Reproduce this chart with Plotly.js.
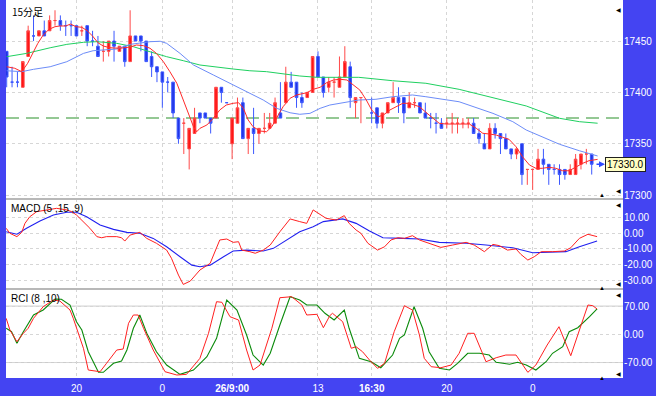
<!DOCTYPE html>
<html><head><meta charset="utf-8">
<script src="https://cdn.plot.ly/plotly-3.0.1.min.js"></script>
<style>html,body{margin:0;padding:0;background:#4646f0;} #chart{width:656px;height:396px;}</style>
</head><body><div id="chart"></div>
<script>
// ---- 15-minute bars (index = bar slot, slot 67 is empty) ----
const barOpen = [17440,17410,17410,17405,17435,17455,17455,17460,17460,17470,
17470,17465,17465,17465,17460,17465,17450,17445,17440,17440,
17450,17440,17445,17430,17455,17455,17450,17435,17425,17420,
17410,17410,17375,17370,17345,17360,17380,17380,17375,17375,
17405,17390,17350,17370,17390,17355,17365,17360,17365,17365,
17370,17380,17390,17410,17410,17395,17395,17400,17435,17415,
17405,17410,17405,17415,17425,17390,17395,null,17380,17385,
17370,17380,17390,17395,17395,17385,17390,17390,17380,17375,
17370,17370,17370,17370,17370,17370,17370,17370,17360,17350,
17345,17365,17360,17355,17345,17340,17350,17325,17325,17325,
17335,17330,17325,17325,17325,17320,17320,17330,17340,17340];
const barHigh = [17440,17425,17420,17430,17465,17475,17460,17470,17475,17480,
17475,17470,17470,17465,17465,17465,17460,17455,17450,17450,
17460,17445,17445,17480,17455,17455,17450,17440,17425,17420,
17415,17410,17375,17375,17365,17385,17380,17380,17375,17405,
17405,17390,17375,17395,17395,17365,17385,17365,17380,17380,
17395,17410,17425,17420,17410,17400,17400,17435,17440,17415,
17415,17415,17435,17445,17430,17395,17395,null,17395,17385,
17380,17390,17410,17405,17395,17400,17395,17390,17390,17380,
17380,17375,17375,17380,17375,17375,17375,17375,17365,17360,
17370,17370,17360,17360,17345,17345,17350,17325,17325,17345,
17345,17330,17330,17330,17325,17330,17340,17340,17345,17340];
const barLow = [17405,17405,17405,17405,17435,17450,17455,17455,17460,17465,
17460,17455,17455,17455,17455,17445,17445,17435,17430,17435,
17430,17440,17425,17430,17450,17440,17430,17415,17410,17385,
17400,17375,17350,17340,17325,17360,17370,17375,17360,17375,
17390,17390,17335,17370,17355,17340,17340,17350,17360,17365,
17370,17375,17390,17405,17385,17385,17395,17400,17415,17395,
17400,17395,17405,17415,17385,17375,17370,null,17370,17365,
17365,17380,17390,17380,17370,17385,17385,17380,17375,17365,
17360,17365,17365,17360,17360,17365,17365,17360,17350,17345,
17345,17355,17340,17345,17335,17335,17310,17310,17305,17325,
17320,17310,17320,17310,17315,17320,17320,17325,17330,17320];
const barClose = [17415,17410,17410,17430,17460,17455,17460,17455,17470,17470,
17465,17465,17465,17455,17460,17450,17450,17435,17440,17450,
17445,17445,17430,17455,17450,17450,17430,17425,17420,17410,
17410,17380,17355,17370,17365,17375,17375,17375,17370,17405,
17400,17390,17375,17385,17355,17365,17360,17365,17365,17370,
17390,17375,17410,17405,17395,17390,17400,17435,17415,17400,
17410,17410,17415,17430,17395,17395,17395,null,17380,17370,
17380,17390,17395,17390,17380,17390,17390,17380,17375,17375,
17370,17365,17370,17370,17370,17370,17370,17360,17355,17345,
17365,17360,17355,17345,17340,17345,17320,17325,17325,17335,
17330,17325,17325,17320,17320,17325,17335,17340,17340,17330];

// ---- moving averages (x in bar slots) ----
const maFastX = [0,1.5,2.8,3.9,5.0,5.8,6.8,7.9,9.0,9.9,11.0,11.9,12.9,14.0,15.0,16.0,17.0,18.0,19.2,21.1,23.0,24.2,25.5,26.7,27.9,29.2,30.4,31.7,32.9,33.8,34.8,35.4,36.0,37.3,38.5,39.7,40.9,42.2,43.2,44.1,45.0,45.9,47.2,48.4,49.4,50.6,51.5,52.8,54.0,55.9,57.1,58.4,59.6,60.9,62.1,63.4,64.6,65.8,67.0,68.0,69.2,70.2,71.4,72.7,73.8,75.0,76.9,78.7,80.6,81.9,84.3,86.2,87.5,88.7,89.9,91.2,92.4,93.6,94.9,96.1,97.4,98.6,99.8,101.1,102.3,103.6,104.8,106.1,107.3,108.5,110.1];
const maFastY = [17425,17423.5,17420.2,17428.3,17439.6,17447.8,17455.9,17461.5,17464,17464.7,17464.7,17466.6,17464,17463.4,17460.1,17454.9,17448.4,17445.2,17443.5,17443,17444.2,17446.2,17445.5,17443,17438,17429.9,17420.2,17408.9,17392.6,17379.6,17366.6,17361.7,17365,17368.3,17374.8,17382.9,17387.7,17389.4,17390,17384.5,17373.1,17366.6,17362.4,17361.7,17366.6,17378,17386.1,17394.3,17397.5,17399.7,17403,17405,17409.5,17412.1,17412.8,17412.1,17407.2,17402.3,17392.6,17382.9,17376.3,17378,17382.9,17386.8,17389.4,17389.4,17386.1,17378,17369.9,17369.2,17369.2,17369.2,17365,17360.2,17359.5,17358.5,17356.3,17354.3,17347.1,17337.4,17329.3,17326.1,17326.1,17327.1,17326.1,17323.7,17323.7,17327.6,17330.9,17333.5,17334.8];
const maMidX = [0,2.8,5.0,8.1,11.2,14.3,16.1,18.3,20.5,23.0,26.7,28.6,29.8,32.3,34.8,38.5,42.2,44.7,47.8,50.3,52.8,54.6,56.5,58.4,60.2,65.6,68.8,71.9,75.6,78.1,84.3,90.6,94.3,96.8,103.0,106.7,110.1];
const maMidY = [17421.1,17420.2,17422.5,17425,17429.9,17438,17440.6,17441.3,17442.3,17446.8,17449.4,17449.8,17447.8,17438,17426.7,17417,17407.2,17400.7,17392.6,17384.5,17380.2,17378.7,17379.6,17384.5,17387.7,17392.6,17393.3,17395.8,17397.5,17395.8,17390.9,17379.6,17371.5,17363.4,17349.5,17343.2,17338.1];
const maSlowX = [0,3.7,8.1,11.2,14.3,16.8,20.5,23.6,26.7,29.8,32.9,36.0,42.2,45.3,48.4,51.5,54.6,57.8,60.2,65.6,71.9,78.1,84.3,90.6,96.8,103.0,106.7,110.1];
const maSlowY = [17434.8,17438,17443.5,17446.8,17448.8,17449.4,17447.8,17444.5,17439.6,17434.8,17430.9,17426.7,17422.8,17421.1,17420.2,17418,17416,17414.7,17414.7,17414.7,17411.4,17408.9,17403,17395.2,17386.8,17374.8,17371.5,17370];
const refLevel = 17375;

// ---- MACD (5,15,9) ----
const macdX = [-0.1,0.6,1.9,2.8,3.4,4.3,5.6,7.5,9.3,11.2,12.1,13.0,14.3,15.5,16.8,17.7,18.6,20.5,21.4,22.0,23.0,24.2,24.8,26.1,27.9,29.8,30.7,32.0,32.9,34.2,36.0,37.9,38.8,39.7,41.0,42.2,43.2,43.8,45.3,46.3,47.8,49.1,50.9,52.8,54.6,55.9,57.1,58.7,59.5,61.4,62.9,63.8,65.1,66.0,67.3,69.1,70.4,71.6,72.9,74.1,75.6,76.9,78.7,80.9,83.1,85.6,87.1,89.0,90.6,91.8,93.3,94.9,95.8,97.1,98.3,99.6,101.7,103.9,105.1,106.7,108.3,109.2,110.0];
const macdY = [3.0,-0.2,-2.3,0.4,6.1,10.3,13.5,14.6,15.6,14.6,13.5,11.4,7.2,3.0,-2.3,-3.0,-2.3,-2.3,-3.0,-5.1,-1.3,-0.2,0.4,-3.4,-6.5,-10.8,-16.0,-26.6,-32.5,-30.4,-23.4,-19.2,-11.8,-4.4,-3.8,-5.9,-5.5,-10.8,-11.8,-12.8,-10.8,-7.6,0.8,8.9,7.2,6.1,14.6,11.4,9.3,8.2,11.0,6.1,1.9,-0.2,-6.5,-10.8,-8.7,-4.4,-3.0,-3.4,-1.7,-4.4,-6.5,-9.1,-7.6,-5.9,-7.6,-11.8,-7.2,-8.0,-10.8,-10.1,-13.5,-17.1,-15.0,-11.8,-11.8,-11.4,-9.3,-3.4,-0.8,-1.7,-2.3];
const signalX = [-0.1,1.9,3.7,6.2,8.7,11.2,13.0,14.9,17.4,19.9,22.4,24.8,27.3,29.8,32.3,34.5,36.0,37.9,40.4,42.2,44.7,47.8,49.7,52.2,54.6,57.1,59.0,62.6,65.1,67.6,70.1,73.8,76.9,80.6,85.6,89.3,94.3,98.0,100.5,104.2,106.7,110.0];
const signalY = [0.8,-0.8,3.0,7.6,11.4,13.1,13.1,10.3,5.1,2.3,0.4,-0.2,-3.4,-8.7,-15.0,-20.3,-21.3,-20.3,-15.0,-11.4,-10.8,-11.4,-9.7,-4.4,0.8,4.0,7.2,8.9,6.1,1.3,-3.0,-3.4,-3.8,-5.9,-6.5,-7.6,-9.3,-12.5,-12.2,-11.8,-8.7,-5.1];

// ---- RCI (8,10) ----
const rciFastX = [-0.1,0.6,1.9,3.1,4.0,5.0,6.8,8.7,9.9,11.8,12.4,13.3,14.3,15.2,17.4,18.6,20.5,21.7,22.7,23.6,24.5,25.5,27.3,29.5,31.7,33.5,36.0,37.6,39.1,40.1,41.6,43.2,44.7,45.9,47.2,49.4,50.9,53.1,55.0,55.9,57.8,59.0,59.5,60.2,60.7,62.6,64.2,65.1,66.3,67.6,69.1,70.4,72.2,74.1,75.6,76.9,77.8,79.1,80.9,82.8,84.3,85.9,87.1,89.3,91.2,93.0,94.9,97.1,98.6,100.7,102.9,105.1,106.4,108.3,109.2,110.0];
const rciFastY = [39.7,10.7,-18.4,2.5,14.9,39.7,68.5,85.1,82.6,60.3,39.7,2.5,-34.7,-88.6,-92.8,-72.0,-39.0,-36.5,27.3,47.9,47.9,14.9,-39.0,-92.8,-101,-99.3,-59.6,2.5,80.9,79.4,43.7,35.5,-39.0,-88.6,-76.2,14.9,90.8,93.3,72.7,47.9,49.6,16.4,29.8,46.2,52.1,31.3,-34.7,-30.8,-43.2,-63.8,-84.4,-72.0,6.5,71.0,60.3,-1.7,-59.6,-80.4,-82.9,-76.2,-47.1,2.5,2.5,-68.0,-58.1,-51.4,-51.4,-94.3,-76.2,-26.6,18.9,-53.1,-1.7,72.7,71.0,62.8];
const rciSlowX = [-0.1,0.9,1.9,3.1,5.0,6.8,9.0,10.2,11.8,13.0,14.0,15.2,17.1,18.0,19.9,21.4,22.4,23.6,24.8,26.1,27.9,29.8,32.3,34.8,37.3,39.1,41.0,42.9,44.7,45.9,47.8,49.1,50.9,52.8,54.6,55.9,57.8,59.3,61.0,62.9,63.8,65.7,67.9,69.7,71.9,73.2,74.1,75.9,77.5,78.7,80.6,82.5,84.0,85.9,88.1,89.9,91.2,93.7,95.2,96.8,98.6,100.5,101.7,103.6,104.8,106.4,108.6,110.0];
const rciSlowY = [14.9,6.5,-22.3,6.5,47.9,60.3,87.6,86.8,72.7,31.3,10.7,-43.2,-94.3,-94.3,-72.0,-66.3,-39.0,14.9,47.9,2.5,-43.2,-76.2,-99.3,-88.6,-55.6,-9.9,85.1,60.3,-1.7,-51.4,-76.2,-47.1,23.1,93.3,85.1,72.7,72.7,52.1,35.5,60.3,14.9,-59.6,-68.0,-82.9,-51.4,-9.9,-1.7,68.5,14.9,-43.2,-84.4,-88.6,-72.0,-47.1,-47.1,-51.4,-69.5,-74.4,-69.5,-76.2,-88.6,-68.0,-47.1,-30.8,6.5,16.4,43.7,62.8];

// ---- axis ticks ----
const timeTickPos = [13,29,42,58,68,82,98];
const timeTickText = ['20','0','<b>26/9:00</b>','13','<b>16:30</b>','20','0'];
const priceTicks = [17300,17350,17400,17450];
const macdTicks = [10,0,-10,-20,-30];
const rciTicks = [70,0,-70];

// ---------------------------------------------------------------
const W = 656, H = 396, ML = 6, MR = 33, MT = 0, MB = 18;
const PW = W - ML - MR, PH = H - MT - MB;
const py = p => (PH - p) / PH;     // pixel row -> paper y
const px = p => (p - ML) / PW;     // pixel col -> paper x
const b1 = py(199), b2 = py(289);
const xr = [-0.13, 114.83];
const idx = barOpen.map((_, i) => i);
const lastClose = barClose[barClose.length - 1];

const BLUE_BG = '#4444f2';
const GRID = '#d6d6d6';
const tickFont = {family: 'Liberation Sans, Arial, sans-serif', size: 10, color: '#ffffff'};
const fx = v => v.toFixed(2);

const xBase = {range: xr, tickmode: 'array', tickvals: timeTickPos, ticktext: timeTickText,
  showgrid: true, gridcolor: GRID, griddash: 'dot', gridwidth: 1, zeroline: false,
  showline: false, ticks: '', fixedrange: true, automargin: false};

const traces = [
  {type: 'candlestick', x: idx, open: barOpen, high: barHigh, low: barLow, close: barClose,
   xaxis: 'x', yaxis: 'y', whiskerwidth: 0, hoverinfo: 'skip',
   increasing: {line: {color: '#ff4a4a', width: 1}, fillcolor: '#ff1414'},
   decreasing: {line: {color: '#3c58ff', width: 1}, fillcolor: '#2236e6'}},
  {type: 'scatter', mode: 'lines', x: maSlowX, y: maSlowY, xaxis: 'x', yaxis: 'y',
   line: {color: '#1fd060', width: 1}, hoverinfo: 'skip'},
  {type: 'scatter', mode: 'lines', x: maMidX, y: maMidY, xaxis: 'x', yaxis: 'y',
   line: {color: '#6c8cf8', width: 1}, hoverinfo: 'skip'},
  {type: 'scatter', mode: 'lines', x: maFastX, y: maFastY, xaxis: 'x', yaxis: 'y',
   line: {color: '#ff2a2a', width: 1}, hoverinfo: 'skip'},
  {type: 'scatter', mode: 'lines', x: signalX, y: signalY, xaxis: 'x2', yaxis: 'y2',
   line: {color: '#2020f0', width: 1.1}, hoverinfo: 'skip'},
  {type: 'scatter', mode: 'lines', x: macdX, y: macdY, xaxis: 'x2', yaxis: 'y2',
   line: {color: '#ff2020', width: 1}, hoverinfo: 'skip'},
  {type: 'scatter', mode: 'lines', x: rciSlowX, y: rciSlowY, xaxis: 'x3', yaxis: 'y3',
   line: {color: '#0a8a0a', width: 1.1}, hoverinfo: 'skip'},
  {type: 'scatter', mode: 'lines', x: rciFastX, y: rciFastY, xaxis: 'x3', yaxis: 'y3',
   line: {color: '#ff2020', width: 1}, hoverinfo: 'skip'}
];

const yBase = {side: 'right', showgrid: true, gridcolor: GRID, griddash: 'dot', zeroline: false,
  showline: false, ticks: '', tickfont: tickFont, fixedrange: true, automargin: false, tickmode: 'array'};

const markers = [];
const addMark = (t, x, y) => markers.push({xref: 'paper', yref: 'paper', x: px(x), y: py(y),
  text: t, showarrow: false, font: {size: 6, color: '#000'}, xanchor: 'center', yanchor: 'middle'});
[[10,191],[205,284],[295,374]].forEach(([a, b]) => { addMark('◀', 618, a); addMark('◀', 618, b); addMark('▲', 602, b + 4); });

const layout = {
  width: W, height: H, margin: {l: ML, r: MR, t: MT, b: MB, pad: 0},
  paper_bgcolor: BLUE_BG, plot_bgcolor: '#ffffff', showlegend: false,
  xaxis: Object.assign({}, xBase, {anchor: 'y', domain: [0, 1], showticklabels: false, rangeslider: {visible: false}}),
  xaxis2: Object.assign({}, xBase, {anchor: 'y2', domain: [0, 1], showticklabels: false}),
  xaxis3: Object.assign({}, xBase, {anchor: 'y3', domain: [0, 1], showticklabels: true,
    tickfont: tickFont, ticklabelstandoff: 3}),
  yaxis: Object.assign({}, yBase, {domain: [b1, 1], range: [17296.2, 17490], anchor: 'x',
    tickvals: priceTicks, ticktext: priceTicks.map(String)}),
  yaxis2: Object.assign({}, yBase, {domain: [b2, b1], range: [-35.4, 21.5], anchor: 'x2',
    tickvals: macdTicks, ticktext: macdTicks.map(fx)}),
  yaxis3: Object.assign({}, yBase, {domain: [0, b2], range: [-108.4, 112.4], anchor: 'x3',
    tickvals: rciTicks, ticktext: rciTicks.map(fx)}),
  shapes: [
    {type: 'line', xref: 'x domain', x0: 0, x1: 1, yref: 'y', y0: refLevel, y1: refLevel,
     line: {color: '#94c894', width: 2, dash: '13px,7px'}, layer: 'below'},
    {type: 'line', xref: 'x3 domain', x0: 0, x1: 1, yref: 'y3', y0: 70, y1: 70,
     line: {color: '#cccccc', width: 1}, layer: 'below'},
    {type: 'line', xref: 'x3 domain', x0: 0, x1: 1, yref: 'y3', y0: -70, y1: -70,
     line: {color: '#cccccc', width: 1}, layer: 'below'},
    {type: 'line', xref: 'paper', x0: 0, x1: 1, yref: 'paper', y0: b1, y1: b1,
     line: {color: '#b8b8b8', width: 2}},
    {type: 'line', xref: 'paper', x0: 0, x1: 1, yref: 'paper', y0: b2, y1: b2,
     line: {color: '#b8b8b8', width: 2}}
  ],
  annotations: [
    {xref: 'paper', yref: 'paper', x: px(10), y: py(2), xanchor: 'left', yanchor: 'top',
     text: '15分足', showarrow: false, font: {family: 'Noto Sans CJK JP, sans-serif', size: 10, color: '#000'}},
    {xref: 'paper', yref: 'paper', x: px(9), y: py(201), xanchor: 'left', yanchor: 'top',
     text: 'MACD (5 ,15 ,9)', showarrow: false, font: {family: 'Liberation Sans, Arial, sans-serif', size: 10, color: '#000'}},
    {xref: 'paper', yref: 'paper', x: px(9), y: py(291), xanchor: 'left', yanchor: 'top',
     text: 'RCI (8 ,10)', showarrow: false, font: {family: 'Liberation Sans, Arial, sans-serif', size: 10, color: '#000'}},
    {xref: 'paper', yref: 'y', x: px(605), y: lastClose, axref: 'pixel', ax: -10, ay: 0,
     text: '', showarrow: true, arrowhead: 2, arrowsize: 0.8, arrowwidth: 1.5, arrowcolor: '#2c48ff'},
    {xref: 'paper', yref: 'y', x: px(605), y: lastClose, xanchor: 'left', yanchor: 'middle',
     text: lastClose.toFixed(1), showarrow: false, bgcolor: '#ffffc4', bordercolor: '#202020',
     borderwidth: 1, borderpad: 1, font: {family: 'Liberation Sans, Arial, sans-serif', size: 10, color: '#000'}}
  ].concat(markers)
};

Plotly.newPlot('chart', traces, layout, {staticPlot: true, displayModeBar: false});
</script></body></html>
